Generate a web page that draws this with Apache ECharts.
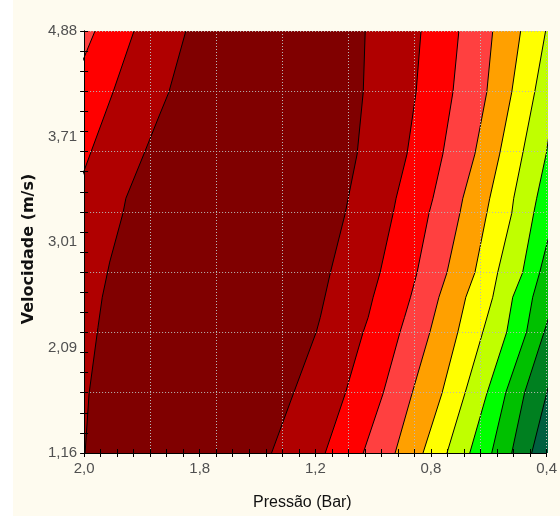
<!DOCTYPE html>
<html>
<head>
<meta charset="utf-8">
<script src="https://cdn.jsdelivr.net/npm/echarts@6/dist/echarts.min.js"></script>
<style>
  html, body { margin: 0; padding: 0; background: #ffffff; width: 560px; height: 518px; overflow: hidden; }
  #chart { position: absolute; left: 13px; top: 0; width: 547px; height: 516px; background: #FEFBEF; }
</style>
</head>
<body>
<div id="chart"></div>
<script>
// Axis domain in coded grid units (x: 0..28, y: 0..84)
const X_MIN = 0, X_MAX = 28;
const Y_MIN = 0, Y_MAX = 84;

// Tick labels (evenly spaced along each axis)
const xTickLabels = ['2,0', '1,8', '1,2', '0,8', '0,4'];
const yTickLabels = ['1,16', '2,09', '3,01', '3,71', '4,88'];

// Band colours from left to right
const bandColors = ['#FF4040', '#FF0000', '#B00000', '#800000', '#B00000', '#FF0000',
  '#FF4040', '#FFA000', '#FFFF00', '#C0FF00', '#00FF00', '#00C000', '#008020', '#006040'];

// Contour boundaries [x, y], top to bottom
const contour0 = [[0.66, 84], [0.12, 79.7], [-0.4, 75.5], [-8, 0]];
const contour1 = [[3.02, 84], [1.75, 71.8], [0, 56.2], [-6.2, 0]];
const contour2 = [[6.16, 84], [5.13, 71.8], [4.47, 66.5], [3.62, 59.5], [2.53, 50.7], [2.35, 47.7], [1.55, 38.0], [1.10, 31.0], [0.84, 25.0], [0.30, 11.8], [0.06, 0]];
const contour3 = [[17.02, 84], [16.90, 71.8], [16.53, 59.5], [15.99, 50.7], [15.81, 47.7], [14.91, 35.9], [14.30, 27.0], [14.06, 24.1], [12.67, 11.8], [11.35, 0]];
const contour4 = [[20.40, 84], [20.10, 71.8], [19.55, 59.5], [18.89, 50.7], [18.71, 47.7], [17.92, 35.9], [17.50, 31.0], [17.20, 27.0], [16.90, 24.1], [15.81, 11.8], [14.60, 0]];
const contour5 = [[22.69, 84], [22.33, 71.8], [21.72, 59.5], [21.12, 50.7], [20.88, 47.7], [20.16, 35.9], [19.76, 31.0], [19.40, 27.0], [19.13, 24.1], [18.10, 11.8], [16.90, 0]];
const contour6 = [[24.74, 84], [24.38, 71.8], [23.66, 59.5], [22.93, 50.7], [22.75, 47.7], [21.97, 35.9], [21.48, 31.0], [20.94, 24.1], [19.85, 11.8], [18.83, 0]];
const contour7 = [[26.43, 84], [25.89, 71.8], [25.16, 59.5], [24.56, 50.7], [24.38, 47.7], [23.66, 35.9], [23.11, 31.0], [22.63, 24.1], [21.66, 11.8], [20.52, 0]];
const contour8 = [[27.94, 84], [27.28, 71.8], [26.55, 59.5], [26.01, 50.7], [25.89, 47.7], [25.04, 35.9], [24.74, 31.0], [24.14, 24.1], [23.05, 11.8], [21.97, 0]];
const contour9 = [[29.1, 84], [28.5, 71.8], [28.0, 59.9], [27.40, 50.7], [27.22, 47.7], [26.55, 35.9], [25.95, 31.0], [25.59, 24.1], [24.38, 11.8], [23.35, 0]];
const contour10 = [[31.2, 84], [30.0, 70], [28.8, 50.7], [28.0, 41.4], [27.58, 35.9], [27.16, 31.0], [26.79, 24.1], [25.53, 12.0], [24.68, 0]];
const contour11 = [[31.8, 84], [30.6, 60.5], [29.4, 40.8], [28.0, 25.6], [26.67, 12.0], [25.89, 0]];
const contour12 = [[32.5, 84], [30.5, 40], [29.1, 25], [28.0, 11.8], [27.10, 0]];

const contours = [contour0, contour1, contour2, contour3, contour4, contour5, contour6,
  contour7, contour8, contour9, contour10, contour11, contour12];

const tickFont = { color: '#505050', fontSize: 15, fontFamily: '"Liberation Sans Narrow", "Arial Narrow", "Liberation Sans", sans-serif' };
const gridLine = { show: true, lineStyle: { color: '#b8b8b8', width: 1, type: [1, 2] } };
const blackLine = { show: true, lineStyle: { color: '#000', width: 1 } };

function hiddenAxis(extra) {
  return Object.assign({
    type: 'value', axisLine: { show: false }, axisTick: { show: false },
    axisLabel: { show: false }, splitLine: { show: false }, z: 5
  }, extra);
}

const chart = echarts.init(document.getElementById('chart'), null, { renderer: 'canvas' });

const option = {
  animation: false,
  backgroundColor: 'transparent',
  grid: { left: 70, right: 13, top: 31, bottom: 59 },
  xAxis: [
    {
      type: 'value', min: X_MIN, max: X_MAX, interval: 7, position: 'bottom', z: 6,
      axisLine: blackLine, axisTick: { show: false }, splitLine: { show: false },
      axisLabel: Object.assign({ margin: 8, formatter: v => xTickLabels[Math.round(v / 7)] }, tickFont),
      name: 'Pressão (Bar)', nameLocation: 'middle', nameGap: 42,
      nameTextStyle: { color: '#111', fontSize: 16, padding: [0, 26, 0, 0], fontFamily: '"Liberation Sans", Arial, sans-serif' }
    },
    hiddenAxis({ min: X_MIN, max: X_MAX, interval: 4, position: 'bottom', splitLine: gridLine }),
    hiddenAxis({ min: X_MIN, max: X_MAX, interval: 1, position: 'bottom',
      axisTick: { show: true, inside: true, length: 4, lineStyle: { color: '#000' } } }),
    hiddenAxis({ min: X_MIN, max: X_MAX, interval: 1, position: 'top', axisLine: blackLine,
      axisTick: { show: true, inside: true, length: 4, lineStyle: { color: '#000' } } })
  ],
  yAxis: [
    {
      type: 'value', min: Y_MIN, max: Y_MAX, interval: 21, position: 'left', z: 6,
      axisLine: blackLine, axisTick: { show: false }, splitLine: { show: false },
      axisLabel: Object.assign({ margin: 7, formatter: v => yTickLabels[Math.round(v / 21)] }, tickFont),
      name: 'Velocidade (m/s)', nameLocation: 'middle', nameGap: 40,
      nameTextStyle: { color: '#111', fontSize: 16, fontWeight: 'bold', padding: [0, 14, 0, 0], fontFamily: '"DejaVu Sans", sans-serif' }
    },
    hiddenAxis({ min: Y_MIN, max: Y_MAX, interval: 12, position: 'left', splitLine: gridLine }),
    hiddenAxis({ min: Y_MIN, max: Y_MAX, interval: 4, position: 'left',
      axisTick: { show: true, inside: true, length: 4, lineStyle: { color: '#000' } } }),
    hiddenAxis({ min: Y_MIN, max: Y_MAX, interval: 4, position: 'right', axisLine: blackLine,
      axisTick: { show: true, inside: true, length: 4, lineStyle: { color: '#000' } } })
  ],
  series: [
    {
      type: 'custom', xAxisIndex: 0, yAxisIndex: 0, clip: true, silent: true, z: 1,
      data: bandColors.map((c, i) => [i, 0]),
      renderItem: function (params, api) {
        const i = params.dataIndex;
        let pts;
        if (i === 0) {
          pts = [[X_MIN, Y_MIN], [X_MAX, Y_MIN], [X_MAX, Y_MAX], [X_MIN, Y_MAX]];
        } else {
          pts = contours[i - 1].concat([[X_MAX + 12, Y_MIN], [X_MAX + 12, Y_MAX]]);
        }
        return {
          type: 'polygon',
          shape: { points: pts.map(p => api.coord(p)) },
          style: { fill: bandColors[i], stroke: null }
        };
      }
    }
  ].concat(contours.map(c => ({
    type: 'line', xAxisIndex: 0, yAxisIndex: 0, data: c, symbol: 'none', showSymbol: false,
    clip: true, silent: true, z: 2,
    lineStyle: { color: '#000', width: 1 }
  })))
};

chart.setOption(option);
</script>
</body>
</html>
